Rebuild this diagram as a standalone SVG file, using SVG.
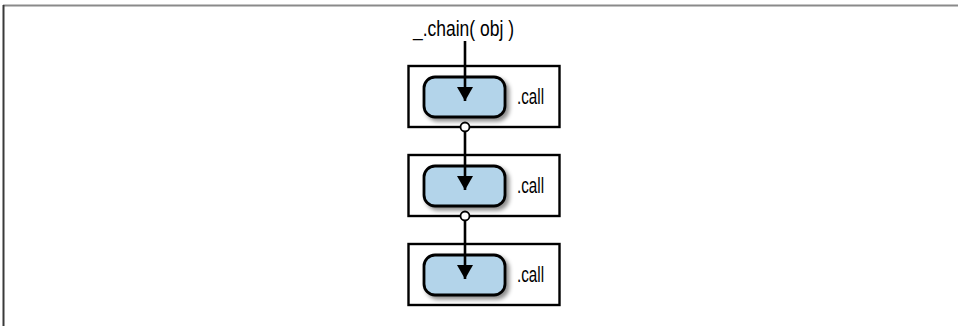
<svg xmlns="http://www.w3.org/2000/svg" width="958" height="326" viewBox="0 0 958 326">
<style>
.frame-top{stroke:#8a8a8a;stroke-width:2;fill:none}
.frame-left{stroke:#3a3a3a;stroke-width:2;fill:none}
.outer{fill:#fff;stroke:#000;stroke-width:2.4}
.inner{fill:#b3d4ea;stroke:#000;stroke-width:2.8}
.lbl{font-family:"Liberation Sans",Arial,sans-serif;font-size:22px;fill:#000}
.edge{stroke:#000;stroke-width:2.6;fill:none}
.dot{fill:#fff;stroke:#000;stroke-width:1.8}
</style>
<defs>
<filter id="sh" x="-20%" y="-20%" width="150%" height="160%">
<feDropShadow dx="3" dy="3" stdDeviation="2" flood-color="#000" flood-opacity="0.45"/>
</filter>
<marker id="ah" markerWidth="14" markerHeight="16" refX="14" refY="8" orient="auto" markerUnits="userSpaceOnUse" viewBox="0 0 14 16">
<path d="M0,0 L14,8 L0,16 Z" fill="#000"/>
</marker>
</defs>
<line class="frame-top" x1="3" y1="5.5" x2="958" y2="5.5"/>
<line class="frame-left" x1="3.5" y1="5" x2="3.5" y2="326"/>
<text class="lbl" x="413" y="36" textLength="101" lengthAdjust="spacingAndGlyphs">_.chain( obj )</text>
<g id="node1">
<rect class="outer" x="408.5" y="66" width="151" height="61"/>
<rect class="inner" x="424" y="77" width="81" height="40" rx="11" filter="url(#sh)"/>
<text class="lbl" x="517" y="104" textLength="27" lengthAdjust="spacingAndGlyphs">.call</text>
</g>
<g id="node2">
<rect class="outer" x="408.5" y="155" width="151" height="61"/>
<rect class="inner" x="424" y="166" width="81" height="40" rx="11" filter="url(#sh)"/>
<text class="lbl" x="517" y="193" textLength="27" lengthAdjust="spacingAndGlyphs">.call</text>
</g>
<g id="node3">
<rect class="outer" x="408.5" y="244" width="151" height="61"/>
<rect class="inner" x="424" y="255" width="81" height="40" rx="11" filter="url(#sh)"/>
<text class="lbl" x="517" y="282" textLength="27" lengthAdjust="spacingAndGlyphs">.call</text>
</g>
<g id="connectors">
<line class="edge" x1="465" y1="41" x2="465" y2="101" marker-end="url(#ah)"/>
<line class="edge" x1="465" y1="131" x2="465" y2="190" marker-end="url(#ah)"/>
<line class="edge" x1="465" y1="220" x2="465" y2="279" marker-end="url(#ah)"/>
<circle class="dot" cx="465" cy="127" r="4.5"/>
<circle class="dot" cx="465" cy="216" r="4.5"/>
</g>
</svg>
